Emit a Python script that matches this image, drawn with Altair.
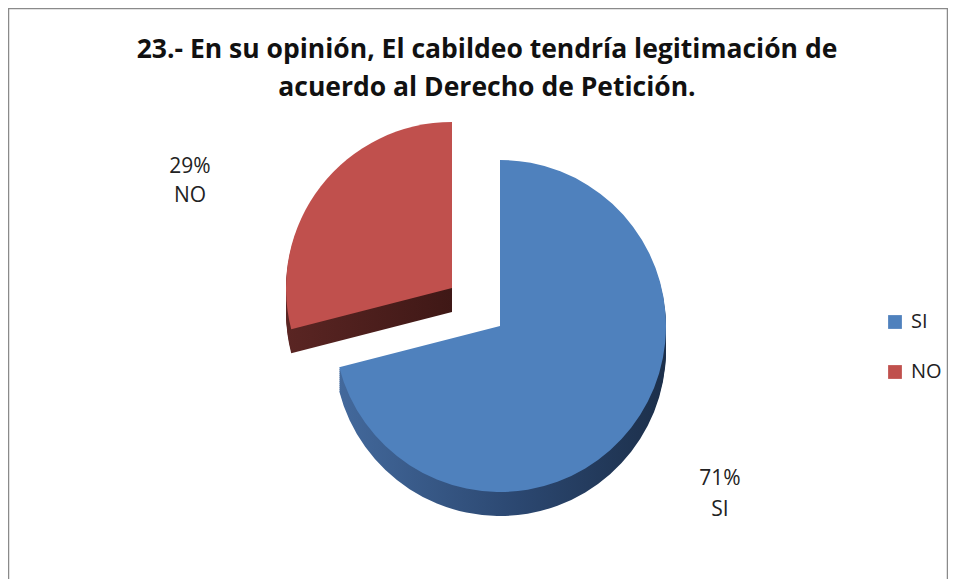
import math
import altair as alt
import pandas as pd

# ---- data ----
categories = ["SI", "NO"]
values = [71, 29]
order = [0, 1]
colors = ["#4F81BD", "#C0504D"]
title_lines = ["23.- En su opinión, El cabildeo tendría legitimación de",
               "acuerdo al Derecho de Petición."]

df = pd.DataFrame({"cat": categories, "val": values, "ord": order})

W, H = 940, 575
R = 166
CX, CY = 492, 318          # SI centre (view coords)
NX, NY = CX - 48, CY - 38  # exploded NO centre
DEPTH = 24

base = (
    alt.Chart(df)
    .transform_window(end="sum(val)", sort=[alt.SortField("ord")], frame=[None, 0])
    .transform_calculate(start="datum.end - datum.val",
                         label="datum.val + '%\\n' + datum.cat")
)

theta = alt.Theta("start:Q", scale=alt.Scale(domain=[0, 100], range=[0, 2 * math.pi]))
theta2 = alt.Theta2("end:Q")

si_side = alt.Gradient(gradient="linear", x1=0, x2=1, y1=0, y2=0,
                       stops=[alt.GradientStop(color="#43699c", offset=0),
                              alt.GradientStop(color="#2b4770", offset=0.55),
                              alt.GradientStop(color="#1c2f4a", offset=1)])
no_side = alt.Gradient(gradient="linear", x1=0, x2=1, y1=0, y2=0,
                       stops=[alt.GradientStop(color="#5a2523", offset=0),
                              alt.GradientStop(color="#3f1816", offset=1)])

layers = []
# side (depth) layers
for d in range(DEPTH, 0, -2):
    layers.append(
        base.transform_filter("datum.cat == 'NO'")
        .mark_arc(outerRadius=R, color=no_side)
        .encode(theta=theta, theta2=theta2, x=alt.value(NX), y=alt.value(NY + d))
    )
    layers.append(
        base.transform_filter("datum.cat == 'SI'")
        .mark_arc(outerRadius=R, color=si_side)
        .encode(theta=theta, theta2=theta2, x=alt.value(CX), y=alt.value(CY + d))
    )

color = alt.Color("cat:N", scale=alt.Scale(domain=categories, range=colors),
                  sort=categories,
                  legend=alt.Legend(title=None, orient="none", legendX=877, legendY=304,
                                    symbolType="square", symbolSize=190,
                                    symbolStrokeWidth=0,
                                    labelFontSize=20, labelFont="Open Sans",
                                    labelColor="#222", rowPadding=30,
                                    labelOffset=6))

layers.append(
    base.transform_filter("datum.cat == 'NO'")
    .mark_arc(outerRadius=R)
    .encode(theta=theta, theta2=theta2, x=alt.value(NX), y=alt.value(NY), color=color)
)
layers.append(
    base.transform_filter("datum.cat == 'SI'")
    .mark_arc(outerRadius=R)
    .encode(theta=theta, theta2=theta2, x=alt.value(CX), y=alt.value(CY), color=color)
)

# data labels
layers.append(
    base.transform_filter("datum.cat == 'NO'")
    .mark_text(lineBreak="\n", fontSize=21, font="Open Sans", color="#222",
               align="center", baseline="middle", lineHeight=29)
    .encode(text="label:N", x=alt.value(182), y=alt.value(159))
)
layers.append(
    base.transform_filter("datum.cat == 'SI'")
    .mark_text(lineBreak="\n", fontSize=21, font="Open Sans", color="#222",
               align="center", baseline="middle", lineHeight=31)
    .encode(text="label:N", x=alt.value(712), y=alt.value(471))
)

# title lines
tdf = pd.DataFrame({"t": title_lines, "i": [0, 1]})
for i, yy in enumerate([42, 80]):
    layers.append(
        alt.Chart(tdf).transform_filter(f"datum.i == {i}")
        .mark_text(fontSize=26.5, font="Open Sans", fontWeight="bold", color="#111",
                   align="center", baseline="middle")
        .encode(text="t:N", x=alt.value(479), y=alt.value(yy))
    )

chart = (
    alt.layer(*layers)
    .properties(width=W, height=H, padding=0)
    .configure_view(stroke="#8a8a8a", strokeWidth=2.5)
)

chart.save("out.html", embed_options={"renderer": "svg", "actions": False})
